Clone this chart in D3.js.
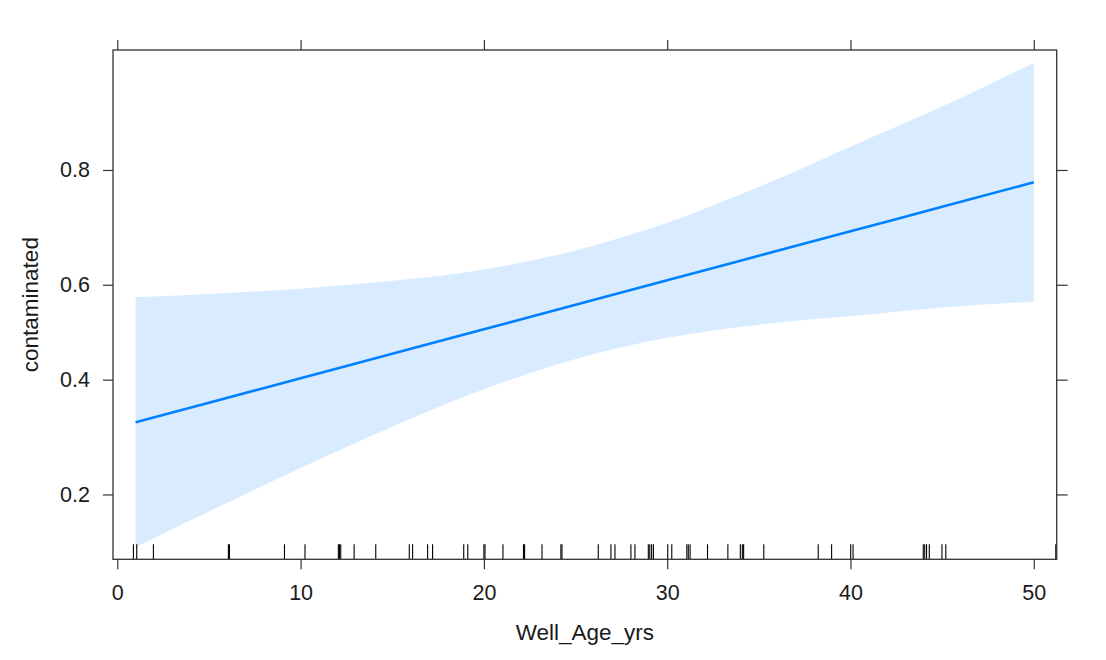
<!DOCTYPE html>
<html>
<head>
<meta charset="utf-8">
<script src="https://cdn.jsdelivr.net/npm/d3@7"></script>
<style>
  html, body { margin: 0; padding: 0; background: #ffffff; }
  svg { display: block; }
  text { font-family: "Liberation Sans", Arial, sans-serif; fill: #1a1a1a; }
</style>
</head>
<body>
<svg id="chart" width="1106" height="660"></svg>
<script>
// ---- data ----
const ageGrid   = [1, 5, 10, 15, 20, 25, 30, 35, 40, 45, 50];
const fitProb   = [0.3165, 0.3536, 0.4030, 0.4541, 0.5062, 0.5585, 0.6092, 0.6577, 0.7031, 0.7450, 0.7826];
const upperProb = [0.574, 0.581, 0.592, 0.608, 0.631, 0.668, 0.718, 0.776, 0.830, 0.873, 0.909];
const lowerProb = [0.1373, 0.1776, 0.2387, 0.3085, 0.3804, 0.4432, 0.4880, 0.5162, 0.5345, 0.5528, 0.5649];
const rugAges   = [0.88, 1.06, 1.97, 6.06, 6.12, 9.12, 10.24, 12.06, 12.12, 12.19, 12.92, 14.1,
                   15.93, 16.11, 16.93, 17.2, 18.9, 19.12, 20.0, 20.06, 21.04, 22.16, 22.22, 23.17,
                   24.2, 24.26, 26.24, 26.93, 27.15, 28.02, 28.24, 28.97, 29.05, 29.15, 29.25,
                   30.03, 30.25, 31.07, 31.15, 31.25, 32.2, 33.31, 33.99, 34.1, 34.17, 35.27,
                   38.24, 38.97, 40.01, 40.14, 43.97, 44.05, 44.15, 44.3, 44.99, 45.2, 51.2, 51.26];
const xTicks    = [0, 10, 20, 30, 40, 50];
const yTicks    = [0.2, 0.4, 0.6, 0.8];
const xLabel    = "Well_Age_yrs";
const yLabel    = "contaminated";

// ---- layout ----
const svg = d3.select("#chart");
const L = 113, R = 1056.7, T = 50, B = 559.3;
const logit = p => Math.log(p / (1 - p));

const x = d3.scaleLinear().domain([-0.235, 51.25]).range([L, R]);
const yL = d3.scaleLinear().domain([logit(0.1256), logit(0.9177)]).range([B, T]);
const y = p => yL(logit(p));

const clipId = "panelclip";
svg.append("defs").append("clipPath").attr("id", clipId)
  .append("rect").attr("x", L).attr("y", T).attr("width", R - L).attr("height", B - T);

const g = svg.append("g").attr("clip-path", `url(#${clipId})`);

const rows = ageGrid.map((a, i) => ({ a, f: fitProb[i], lo: lowerProb[i], hi: upperProb[i] }));

// band
g.append("path")
  .datum(rows)
  .attr("d", d3.area().x(d => x(d.a)).y0(d => y(d.lo)).y1(d => y(d.hi)).curve(d3.curveMonotoneX))
  .attr("fill", "#d9ecff")
  .attr("stroke", "none");

// fit line
g.append("path")
  .datum(rows)
  .attr("d", d3.line().x(d => x(d.a)).y(d => y(d.f)).curve(d3.curveMonotoneX))
  .attr("fill", "none")
  .attr("stroke", "#0080FF")
  .attr("stroke-width", 2.6);

// rug
g.selectAll("line.rug").data(rugAges).enter().append("line")
  .attr("class", "rug")
  .attr("x1", d => x(d)).attr("x2", d => x(d))
  .attr("y1", B).attr("y2", B - 15)
  .attr("stroke", "#000").attr("stroke-width", 1.1);

// axes
const axColor = "#333333";
function styleAxis(sel, showText) {
  sel.select(".domain").remove();
  sel.selectAll(".tick line").attr("stroke", axColor).attr("stroke-width", 1.2);
  sel.selectAll(".tick text")
    .style("font-family", '"Liberation Sans", Arial, sans-serif')
    .style("font-size", "21.5px")
    .attr("fill", "#1a1a1a");
  if (!showText) sel.selectAll(".tick text").remove();
}

const xb = svg.append("g").attr("transform", `translate(0,${B})`)
  .call(d3.axisBottom(x).tickValues(xTicks).tickSize(10).tickPadding(15).tickFormat(d3.format("d")));
styleAxis(xb, true);

const xt = svg.append("g").attr("transform", `translate(0,${T})`)
  .call(d3.axisTop(x).tickValues(xTicks).tickSize(10).tickFormat(""));
styleAxis(xt, false);

const yl = svg.append("g").attr("transform", `translate(${L},0)`)
  .call(d3.axisLeft(yL).tickValues(yTicks.map(logit)).tickSize(10).tickPadding(13)
    .tickFormat(v => d3.format(".1f")(1 / (1 + Math.exp(-v)))));
styleAxis(yl, true);

const yr = svg.append("g").attr("transform", `translate(${R},0)`)
  .call(d3.axisRight(yL).tickValues(yTicks.map(logit)).tickSize(11).tickFormat(""));
styleAxis(yr, false);

// panel border
svg.append("rect")
  .attr("x", L).attr("y", T).attr("width", R - L).attr("height", B - T)
  .attr("fill", "none").attr("stroke", axColor).attr("stroke-width", 1.3);

// axis labels
svg.append("text")
  .attr("x", (L + R) / 2).attr("y", 640)
  .attr("text-anchor", "middle")
  .style("font-size", "22.5px")
  .text(xLabel);

svg.append("text")
  .attr("transform", `translate(38,${(T + B) / 2}) rotate(-90)`)
  .attr("text-anchor", "middle")
  .style("font-size", "22.5px")
  .text(yLabel);
</script>
</body>
</html>
